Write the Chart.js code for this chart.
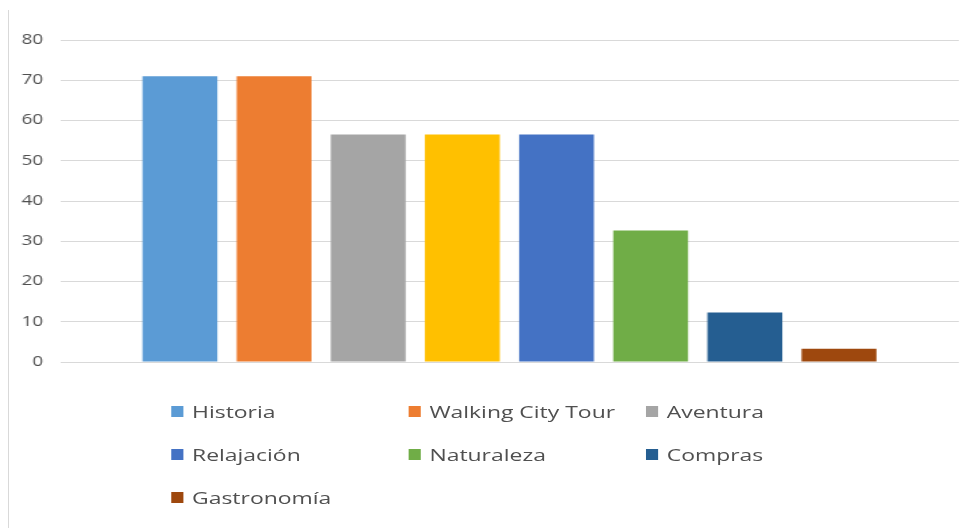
<!DOCTYPE html>
<html lang="es">
<head>
<meta charset="utf-8">
<title>Actividades</title>
<script src="https://cdn.jsdelivr.net/npm/chart.js@4/dist/chart.umd.min.js"></script>
<style>
  html, body { margin: 0; padding: 0; background: #ffffff; }
  body { width: 971px; height: 528px; overflow: hidden; position: relative; }
  #frame {
    position: absolute; left: 8px; top: 10px; bottom: 0; width: 0;
    border-left: 1px solid #d9d9d9;
  }
  /* the drawing is laid out on a narrower surface and widened to the page */
  #stage {
    position: absolute; left: 0; top: 0; width: 720px; height: 528px;
    transform: scaleX(1.3486); transform-origin: 0 0;
  }
  #legend {
    position: absolute; left: 126.6px; top: 390px;
    display: grid; grid-template-columns: repeat(3, 176px); grid-auto-rows: 43px;
    font-family: "Open Sans", sans-serif; font-size: 17px; color: #505050;
  }
  .item { display: flex; align-items: center; white-space: nowrap; }
  .swatch { width: 9px; height: 10.5px; margin-right: 6.8px; flex: none; }
</style>
</head>
<body>
<div id="frame"></div>
<div id="stage">
  <canvas id="chart" width="720" height="528"></canvas>
  <div id="legend"></div>
</div>
<script>
// activity series (one bar each) and their values
const seriesNames = ["Historia", "Walking City Tour", "Aventura", "", "Relajación", "Naturaleza", "Compras", "Gastronomía"];
const seriesValues = [71, 71, 56.5, 56.5, 56.5, 32.7, 12.3, 3.3];
const seriesColors = ["#5B9BD5", "#ED7D31", "#A5A5A5", "#FFC000", "#4472C4", "#70AD47", "#255E91", "#9E480E"];
const categories = [""];
const yTicks = [0, 10, 20, 30, 40, 50, 60, 70, 80];

const datasets = seriesNames.map((name, i) => ({
  label: name,
  data: [seriesValues[i]],
  backgroundColor: seriesColors[i],
  borderWidth: 0,
  categoryPercentage: 0.838,
  barPercentage: 0.795
}));

const chart = new Chart(document.getElementById("chart"), {
  type: "bar",
  data: { labels: categories, datasets: datasets },
  options: {
    responsive: false,
    animation: false,
    devicePixelRatio: 1,
    layout: { padding: { left: 0, right: 9, top: 40, bottom: 166 } },
    plugins: { legend: { display: false }, tooltip: { enabled: false } },
    scales: {
      x: { display: false },
      y: {
        min: 0, max: 80,
        afterFit: (scale) => { scale.width = 44.5; },
        afterBuildTicks: (scale) => { scale.ticks = yTicks.map(v => ({ value: v })); },
        border: { display: false },
        grid: { color: "#d9d9d9", lineWidth: 1, drawTicks: false },
        ticks: {
          padding: 12.6,
          color: "#505050",
          font: { family: "Open Sans", size: 14 }
        }
      }
    }
  }
});

// legend laid out in three columns, skipping unnamed series
const legendBox = document.getElementById("legend");
chart.data.datasets.forEach((ds) => {
  if (!ds.label) return;
  const item = document.createElement("div");
  item.className = "item";
  const sw = document.createElement("span");
  sw.className = "swatch";
  sw.style.background = ds.backgroundColor;
  const tx = document.createElement("span");
  tx.textContent = ds.label;
  item.appendChild(sw);
  item.appendChild(tx);
  legendBox.appendChild(item);
});
</script>
</body>
</html>
